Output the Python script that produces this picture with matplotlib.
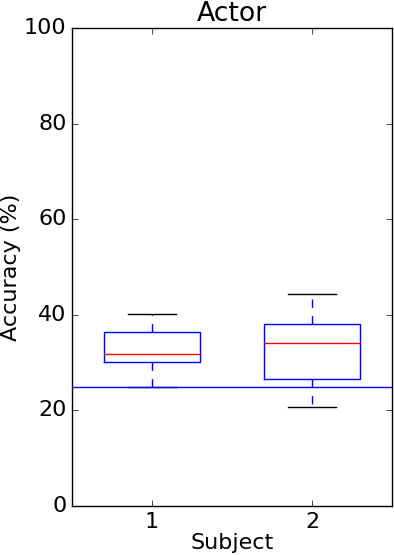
import matplotlib
matplotlib.use('Agg')
import matplotlib.pyplot as plt

plt.style.use('classic')
plt.rcParams['font.size'] = 16

# box statistics (accuracy in %)
subjects = [1, 2]
whislo = [25.0, 20.8]
q1 = [30.2, 26.6]
med = [31.9, 34.1]
q3 = [36.5, 38.1]
whishi = [40.2, 44.4]
chance = 25.0

stats = []
for i in range(len(subjects)):
    stats.append({'whislo': whislo[i], 'q1': q1[i], 'med': med[i],
                  'q3': q3[i], 'whishi': whishi[i], 'fliers': []})

fig = plt.figure(figsize=(3.94, 5.55), dpi=100)
ax = fig.add_axes([0.1827, 0.0883, 0.8123, 0.8612])

ax.bxp(stats, positions=subjects, widths=0.6, showfliers=False,
       boxprops=dict(color='blue'),
       medianprops=dict(color='red'),
       whiskerprops=dict(color='blue', linestyle='--'),
       capprops=dict(color='black'))
ax.axhline(chance, color='blue')

ax.set_xlim(0.5, 2.5)
ax.set_ylim(0, 100)
ax.set_xticks(subjects)
ax.set_xticklabels([str(s) for s in subjects])
ax.set_title('Actor')
ax.set_xlabel('Subject', labelpad=1)
ax.set_ylabel('Accuracy (%)', labelpad=2)

fig.savefig('out.png', dpi=100)
